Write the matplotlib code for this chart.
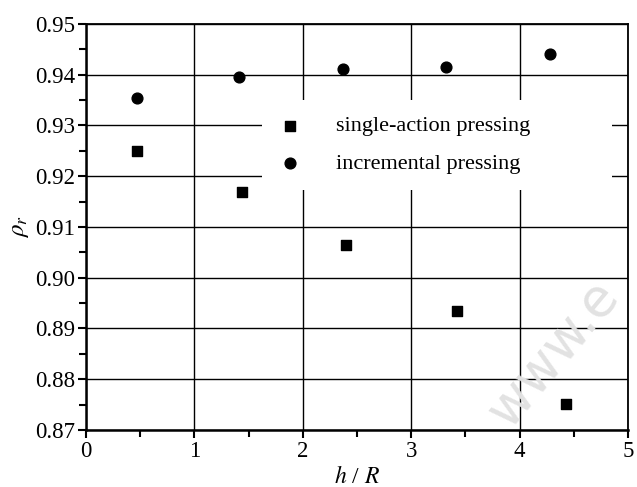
import matplotlib
matplotlib.use("Agg")
import matplotlib.pyplot as plt
from matplotlib.patches import Rectangle
from matplotlib.ticker import MultipleLocator, FormatStrFormatter

plt.rcParams['font.family'] = ['Liberation Serif', 'DejaVu Serif']
plt.rcParams['mathtext.fontset'] = 'stix'

# data
x_single = [0.47, 1.44, 2.40, 3.42, 4.43]
y_single = [0.925, 0.9168, 0.9064, 0.8935, 0.8752]
x_incr = [0.47, 1.41, 2.37, 3.32, 4.28]
y_incr = [0.9354, 0.9396, 0.9412, 0.9416, 0.9440]
series_labels = ["single-action pressing", "incremental pressing"]
x_label = "$h$ / $R$"
y_label = r"$\rho_r$"

fig = plt.figure(figsize=(6.37, 4.87), dpi=100)
ax = fig.add_axes([0.135, 0.117, 0.851, 0.834])

ax.set_xlim(0, 5)
ax.set_ylim(0.87, 0.95)
ax.xaxis.set_major_locator(MultipleLocator(1))
ax.xaxis.set_minor_locator(MultipleLocator(0.5))
ax.yaxis.set_major_locator(MultipleLocator(0.01))
ax.yaxis.set_minor_locator(MultipleLocator(0.005))
ax.yaxis.set_major_formatter(FormatStrFormatter('%.2f'))

ax.grid(True, which='major', color='black', linewidth=1.0)
ax.set_axisbelow(True)

for side in ['left', 'bottom']:
    ax.spines[side].set_linewidth(1.8)
for side in ['top', 'right']:
    ax.spines[side].set_linewidth(1.3)

ax.tick_params(which='major', direction='out', length=6, width=1.5, labelsize=16.5, pad=2,
               top=False, right=False)
ax.tick_params(which='minor', direction='out', length=5, width=1.5, top=False, right=False)

# white background behind legend, covering grid
ax.add_patch(Rectangle((0.411, 0.610), 0.55, 0.185, transform=fig.transFigure,
                       facecolor='white', edgecolor='none', zorder=1.5))

ax.scatter(x_single, y_single, marker='s', s=55, color='black', zorder=3, label=series_labels[0])
ax.scatter(x_incr, y_incr, marker='o', s=60, color='black', zorder=3, label=series_labels[1])

leg = ax.legend(loc='upper left', bbox_to_anchor=(0.42, 0.785), bbox_transform=fig.transFigure,
                frameon=False, fontsize=16, handletextpad=1.6, labelspacing=0.78,
                borderpad=0, handlelength=1.0, scatterpoints=1)

ax.set_xlabel(x_label, fontsize=17, labelpad=3)
ax.set_ylabel(y_label, fontsize=18, labelpad=3)

fig.text(0.868, 0.275, "www.e", fontsize=38, color='#e2e2e2', rotation=50,
         family='DejaVu Sans', ha='center', va='center', zorder=0.5)

fig.savefig("out.png", dpi=100)
